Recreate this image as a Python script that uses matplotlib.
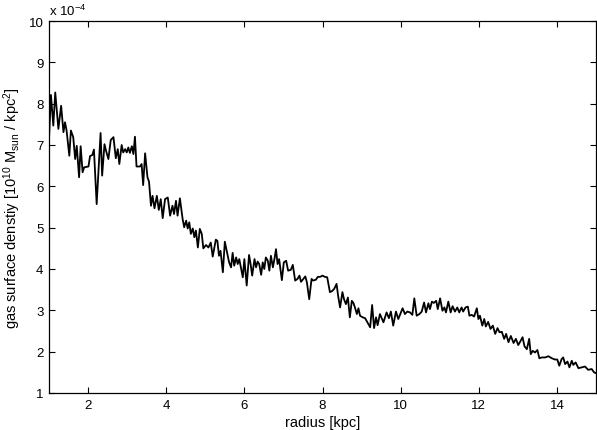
import matplotlib
matplotlib.use("Agg")
import matplotlib.pyplot as plt

radius_kpc = [
    1.00, 1.05, 1.11, 1.16, 1.24, 1.31, 1.37, 1.41, 1.45, 1.52, 1.56, 1.62, 1.67, 1.71, 1.77, 1.81,
    1.86, 1.90, 2.01, 2.05, 2.11, 2.15, 2.22, 2.32, 2.36, 2.42, 2.46, 2.52, 2.58, 2.65, 2.71, 2.76,
    2.80, 2.86, 2.90, 2.95, 2.99, 3.03, 3.07, 3.12, 3.16, 3.20, 3.24, 3.33, 3.37, 3.41, 3.46, 3.52,
    3.56, 3.61, 3.65, 3.70, 3.76, 3.81, 3.86, 3.91, 3.97, 4.04, 4.10, 4.16, 4.20, 4.25, 4.29, 4.35,
    4.42, 4.46, 4.51, 4.55, 4.59, 4.63, 4.68, 4.72, 4.76, 4.81, 4.86, 4.91, 4.95, 5.02, 5.08, 5.14,
    5.19, 5.27, 5.31, 5.35, 5.39, 5.45, 5.50, 5.56, 5.61, 5.66, 5.70, 5.74, 5.79, 5.83, 5.87, 5.91,
    5.96, 6.00, 6.06, 6.12, 6.16, 6.20, 6.26, 6.30, 6.34, 6.38, 6.43, 6.47, 6.51, 6.55, 6.60, 6.64,
    6.68, 6.73, 6.77, 6.81, 6.85, 6.89, 6.96, 7.01, 7.07, 7.12, 7.19, 7.24, 7.30, 7.36, 7.41, 7.45,
    7.51, 7.56, 7.60, 7.66, 7.72, 7.76, 7.83, 7.88, 7.94, 8.00, 8.06, 8.12, 8.19, 8.25, 8.30, 8.36,
    8.40, 8.45, 8.51, 8.55, 8.60, 8.65, 8.70, 8.75, 8.79, 8.83, 8.88, 8.92, 8.96, 9.03, 9.09, 9.15,
    9.22, 9.27, 9.32, 9.37, 9.41, 9.47, 9.56, 9.64, 9.70, 9.75, 9.81, 9.88, 9.94, 10.05, 10.11, 10.17,
    10.24, 10.30, 10.35, 10.41, 10.48, 10.54, 10.60, 10.65, 10.71, 10.75, 10.80, 10.85, 10.91, 10.95, 11.01, 11.07,
    11.12, 11.16, 11.22, 11.28, 11.33, 11.39, 11.45, 11.50, 11.56, 11.60, 11.66, 11.72, 11.76, 11.82, 11.88, 11.95,
    11.99, 12.03, 12.09, 12.14, 12.18, 12.24, 12.30, 12.36, 12.42, 12.48, 12.53, 12.59, 12.65, 12.70, 12.76, 12.82,
    12.89, 12.95, 13.01, 13.07, 13.12, 13.17, 13.23, 13.29, 13.33, 13.38, 13.44, 13.50, 13.55, 13.61, 13.70, 13.78,
    13.87, 13.95, 14.01, 14.06, 14.12, 14.16, 14.21, 14.27, 14.32, 14.38, 14.42, 14.48, 14.55, 14.63, 14.72, 14.80,
    14.89, 14.95, 15.00,
]

density_e4 = [
    7.14, 8.21, 7.47, 8.27, 7.39, 7.95, 7.31, 7.55, 7.35, 6.74, 7.35, 7.19, 6.66, 6.98, 6.22, 6.97,
    6.34, 6.46, 6.48, 6.73, 6.76, 6.89, 5.57, 7.29, 6.26, 7.02, 6.86, 6.66, 7.12, 7.19, 6.68, 6.90,
    6.54, 7.00, 6.82, 6.90, 6.82, 6.94, 6.81, 6.97, 6.78, 7.20, 6.48, 6.48, 6.54, 6.03, 6.80, 6.22,
    6.11, 5.53, 5.77, 5.47, 5.77, 5.43, 5.69, 5.23, 5.69, 5.73, 5.29, 5.53, 5.33, 5.65, 5.29, 5.71,
    5.21, 5.01, 5.17, 4.98, 5.13, 4.85, 4.98, 4.77, 4.93, 4.52, 4.97, 4.85, 4.50, 4.58, 4.52, 4.64,
    4.30, 4.71, 4.68, 4.32, 4.44, 3.92, 4.66, 4.39, 4.16, 4.04, 4.39, 4.08, 4.28, 4.12, 4.24, 4.04,
    3.80, 4.24, 3.60, 4.34, 4.12, 3.84, 4.24, 4.04, 4.18, 4.12, 3.86, 4.16, 4.00, 4.28, 4.20, 3.96,
    4.32, 4.04, 4.24, 4.48, 4.12, 4.24, 3.73, 4.16, 4.20, 3.96, 3.98, 4.10, 3.72, 3.76, 3.84, 3.69,
    3.76, 3.82, 3.68, 3.27, 3.76, 3.72, 3.74, 3.81, 3.81, 3.84, 3.81, 3.80, 3.44, 3.47, 3.52, 3.64,
    3.35, 3.07, 3.44, 3.27, 3.15, 3.31, 2.83, 3.23, 3.18, 3.07, 2.91, 3.05, 2.87, 2.83, 2.81, 2.71,
    2.59, 3.13, 2.57, 2.83, 2.64, 2.91, 2.71, 2.95, 2.81, 2.97, 2.63, 2.97, 2.79, 3.05, 2.91, 2.97,
    2.95, 2.89, 3.29, 2.87, 2.91, 2.97, 3.19, 2.95, 3.17, 3.03, 3.21, 3.18, 3.23, 3.03, 3.29, 2.99,
    3.07, 2.95, 3.21, 2.95, 3.10, 2.97, 3.07, 2.95, 3.07, 2.97, 3.07, 3.09, 2.87, 2.89, 2.85, 3.05,
    2.79, 2.87, 2.63, 2.79, 2.61, 2.72, 2.55, 2.63, 2.43, 2.57, 2.47, 2.48, 2.31, 2.43, 2.23, 2.38,
    2.21, 2.31, 2.16, 2.26, 2.35, 2.13, 2.06, 2.31, 1.94, 2.02, 1.98, 2.04, 1.84, 1.86, 1.86, 1.89,
    1.84, 1.81, 1.81, 1.66, 1.82, 1.86, 1.70, 1.76, 1.62, 1.78, 1.68, 1.74, 1.60, 1.62, 1.64, 1.56,
    1.58, 1.50, 1.48,
]

x_ticks = [2, 4, 6, 8, 10, 12, 14]
y_ticks = [1, 2, 3, 4, 5, 6, 7, 8, 9, 10]

plt.rcParams['font.family'] = ['Liberation Sans', 'DejaVu Sans']
plt.rcParams['mathtext.fontset'] = 'custom'
plt.rcParams['mathtext.rm'] = 'Liberation Sans'
plt.rcParams['mathtext.it'] = 'Liberation Sans'

fig = plt.figure(figsize=(5.97, 4.31), dpi=100)
ax = fig.add_axes([49/597, 1-394/431, (596-49)/597, (394-22)/431])
ax.plot(radius_kpc, density_e4, color='black', lw=1.3)
ax.set_xlim(1, 15)
ax.set_ylim(1, 10)
ax.set_xticks(x_ticks)
ax.set_yticks(y_ticks)
ax.tick_params(direction='in', top=True, right=True, length=4, width=0.8, labelsize=9.5, pad=4)
for s in ax.spines.values():
    s.set_linewidth(0.9)
ax.set_xlabel('radius [kpc]', fontsize=10.5, labelpad=3)
ax.set_ylabel(r'gas surface denstiy [10$^{10}$ M$_{\rm sun}$ / kpc$^{2}$]', fontsize=10.5, labelpad=4)
ax.text(0.0, 1.008, r'x 10$^{-4}$', transform=ax.transAxes, fontsize=9.5, ha='left', va='bottom')
fig.savefig('out.png', dpi=100)
